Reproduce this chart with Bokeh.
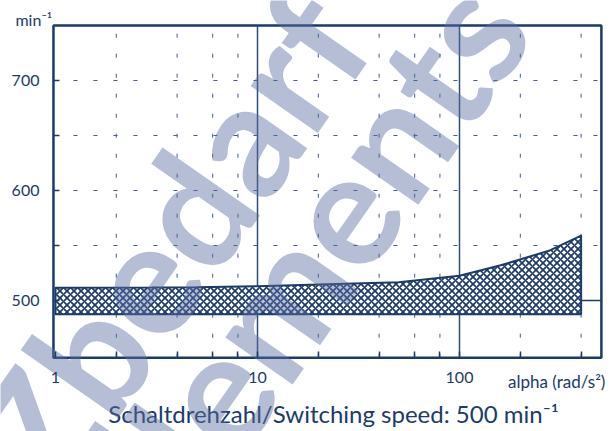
from bokeh.plotting import figure
from bokeh.models import FixedTicker, Range1d, LogAxis, LinearAxis, CustomJSTickFormatter
from bokeh.core.properties import value
from bokeh.embed import file_html
from bokeh.resources import INLINE

# ---- data ----
alpha = [1, 3, 5, 10, 20, 50, 100, 160, 280, 400]
upper = [511.5, 511.8, 512.0, 513.0, 514.5, 516.5, 522.5, 532.0, 545.5, 559.0]
lower = [487.5, 487.5, 487.5, 487.5, 487.5, 487.5, 487.5, 487.5, 487.5, 487.5]
switch_speed = 500
x_major = [1, 10, 100]
x_minor = [2, 4, 6, 8, 20, 40, 60, 80, 200, 400]
y_major = [500, 600, 700]
y_labels = ["500", "600", "700"]
y_minor = [550, 650]
y_grid = [550, 600, 650, 700]
decade_lines = [10, 100]

NAVY = "#1c3a6a"
GRID = "#3f5d8c"
FONT = "Lato"

W, H = 616, 431
# chart box (data limits)
x_lo, x_hi = 0.977, 504.0
y_lo, y_hi = 448.0, 750.0
# canvas mapping: 202 px per decade, x=1 at 55 px ; 1.1 px per unit, 500 at 300 px
DEC, X1PX = 202.0, 55.0
YPX, Y500PX = 1.1, 300.0
xr = Range1d(10 ** (-X1PX / DEC), 10 ** ((W - X1PX) / DEC))
yr = Range1d(500 - (H - Y500PX) / YPX, 500 + Y500PX / YPX)

p = figure(width=W, height=H, x_axis_type="log", x_range=xr, y_range=yr,
           output_backend="svg", toolbar_location=None,
           x_axis_location=None, y_axis_location=None, min_border=0)
p.grid.visible = False
p.outline_line_color = None
p.background_fill_color = "white"
p.border_fill_color = "white"

# axes drawn at the chart box edges
xa = LogAxis(fixed_location=y_lo, ticker=FixedTicker(ticks=x_major, minor_ticks=x_minor))
ya = LinearAxis(fixed_location=x_lo, ticker=FixedTicker(ticks=y_major, minor_ticks=y_minor))
for a in (xa, ya):
    a.axis_line_color = None
    a.major_tick_in = 6
    a.major_tick_out = 0
    a.minor_tick_in = 6
    a.minor_tick_out = 0
    a.major_tick_line_color = NAVY
    a.minor_tick_line_color = NAVY
    a.major_tick_line_width = 1.5
    a.minor_tick_line_width = 1.5
    a.major_label_text_font = FONT
    a.major_label_text_font_size = "16px"
    a.major_label_text_color = NAVY
xa.major_label_standoff = 14
xa.major_label_overrides = {1: "1", 10: "10", 100: "100"}
ya.formatter = CustomJSTickFormatter(code="return '';")
p.add_layout(xa, "below")
p.add_layout(ya, "left")

# dashed grid
p.segment(x0=x_minor, y0=[y_lo] * len(x_minor), x1=x_minor, y1=[y_hi] * len(x_minor),
          line_color=GRID, line_dash="4 16", line_width=1)
p.segment(x0=[x_lo] * len(y_grid), y0=y_grid, x1=[x_hi] * len(y_grid), y1=y_grid,
          line_color=GRID, line_dash="4 16", line_width=1)
# solid decade lines
p.segment(x0=decade_lines, y0=[y_lo] * 2, x1=decade_lines, y1=[y_hi] * 2,
          line_color="#2d4b7b", line_width=1.5)

# band
xs = alpha + alpha[::-1]
ys = upper + lower[::-1]
p.patch(xs, ys, fill_color="white", hatch_pattern="x", hatch_color=NAVY,
        hatch_scale=7, hatch_weight=1.7, line_color=NAVY, line_width=2)
p.line([alpha[-1], x_hi], [switch_speed, switch_speed], line_color=NAVY, line_width=1.5)

# chart frame
p.quad(left=[x_lo], right=[x_hi], bottom=[y_lo], top=[y_hi], fill_color=None,
       line_color=NAVY, line_width=2.5)

# y tick labels
p.text(x=[x_lo] * len(y_major), y=y_major, text=y_labels, x_offset=-14,
       text_font=value(FONT), text_font_size="16px", text_color=NAVY,
       text_align="right", text_baseline="middle")

# texts
def txt(x, y, t, size, dx, dy, align="left"):
    p.text(x=[x], y=[y], text=[t], x_offset=dx, y_offset=dy,
           text_font=value(FONT), text_font_size=size, text_color=NAVY,
           text_align=align, text_baseline="middle")

txt(x_lo, y_hi, "min⁻¹", "16px", -38, -6)
txt(x_hi, y_lo, "alpha (rad/s²)", "17px", 4, 24, align="right")
txt(x_lo, y_lo, "Schaltdrehzahl/Switching speed: 500 min⁻¹", "24px", 280, 56, align="center")

# watermark
wm = ["Zbedarf", "elements"]
wm_dx = [114, 248]
wm_dy = [-118, -94]
p.text(x=[x_lo] * 2, y=[y_lo] * 2, text=wm, x_offset=wm_dx, y_offset=wm_dy,
       angle=55, angle_units="deg", text_font=value(FONT), text_font_size="160px",
       text_font_style="bold", text_color="#5a6fa0", text_alpha=0.45,
       text_align="center", text_baseline="middle")

open("out.html", "w").write(file_html(p, INLINE))
